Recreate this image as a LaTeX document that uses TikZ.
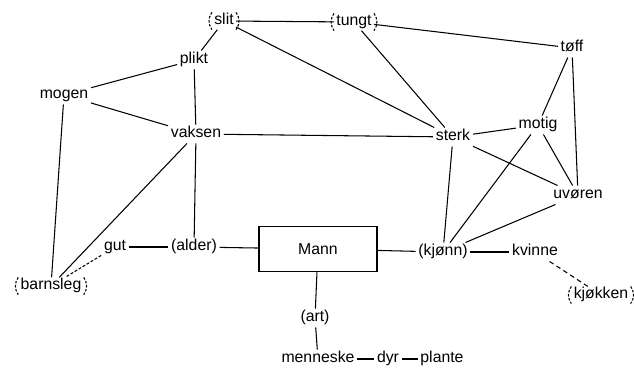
\documentclass[tikz,border=0pt]{standalone}
\usepackage{fontspec}
\setmainfont{Liberation Sans}

\begin{document}
\begin{tikzpicture}[x=0.03cm, y=-0.03cm, line width=0.9pt,
    font=\fontsize{13.5}{15}\selectfont,
    word/.style={inner xsep=2pt, inner ysep=1.5pt, text height=9.5pt, text depth=2.8pt},
    brk/.style={word, inner xsep=1.6pt, inner ysep=0.8pt, append after command={
        (\tikzlastnode.north west) edge[dash pattern=on 2.2pt off 1.3pt, bend right=35] (\tikzlastnode.south west)
        (\tikzlastnode.north east) edge[dash pattern=on 2.2pt off 1.3pt, bend left=35] (\tikzlastnode.south east)}},
    weak/.style={dash pattern=on 2.5pt off 1.5pt},
    loose/.style={dash pattern=on 4pt off 3pt}]
  \useasboundingbox (0,0) rectangle (634,371);
  % Centre box
  \node[draw, line width=1.3pt, minimum width=3.54cm, minimum height=1.35cm] (mann) at (318,249) {Mann};
  % Upper words
  \node[brk] (slit) at (224,21) {slit};
  \node[brk] (tungt) at (354,22) {tungt};
  \node[word] (toff) at (572,48) {tøff};
  \node[word] (plikt) at (194,60) {plikt};
  \node[word] (mogen) at (64,95) {mogen};
  \node[word] (vaksen) at (196,134) {vaksen};
  \node[word] (sterk) at (453,137) {sterk};
  \node[word] (motig) at (538,125) {motig};
  \node[word] (uvoren) at (578,195) {uvøren};
  % Middle row
  \node[brk] (barn) at (51,286) {barnsleg};
  \node[word] (gut) at (115,247) {gut};
  \node[word] (alder) at (194,247) {(alder)};
  \node[word] (kjonn) at (443,252) {(kjønn)};
  \node[word] (kvinne) at (535,252) {kvinne};
  \node[brk] (kjokken) at (601,295) {kjøkken};
  % Lower words
  \node[word] (art) at (315,318) {(art)};
  \node[word] (menneske) at (318,359) {menneske};
  \node[word] (dyr) at (388,359) {dyr};
  \node[word] (plante) at (442,359) {plante};
  % Links
  \draw (slit) -- (tungt);
  \draw (slit) -- (plikt);
  \draw (slit) -- (sterk);
  \draw (tungt) -- (toff);
  \draw (tungt) -- (sterk);
  \draw (plikt) -- (mogen);
  \draw (plikt) -- (vaksen);
  \draw (vaksen) -- (alder);
  \draw (mogen) -- (vaksen);
  \draw (mogen) -- (barn);
  \draw (vaksen) -- (barn);
  \draw (vaksen) -- (sterk);
  \draw[weak] (gut) -- (barn);
  \draw (gut) -- (alder);
  \draw (alder) -- (mann);
  \draw (mann) -- (kjonn);
  \draw (mann) -- (art);
  \draw (art) -- (menneske);
  \draw (menneske) -- (dyr);
  \draw (dyr) -- (plante);
  \draw (kjonn) -- (kvinne);
  \draw[loose] (kvinne) -- (kjokken);
  \draw (sterk) -- (kjonn);
  \draw (motig) -- (kjonn);
  \draw (uvoren) -- (kjonn);
  \draw (sterk) -- (motig);
  \draw (sterk) -- (uvoren);
  \draw (motig) -- (uvoren);
  \draw (toff) -- (motig);
  \draw (toff) -- (uvoren);
\end{tikzpicture}
\end{document}
